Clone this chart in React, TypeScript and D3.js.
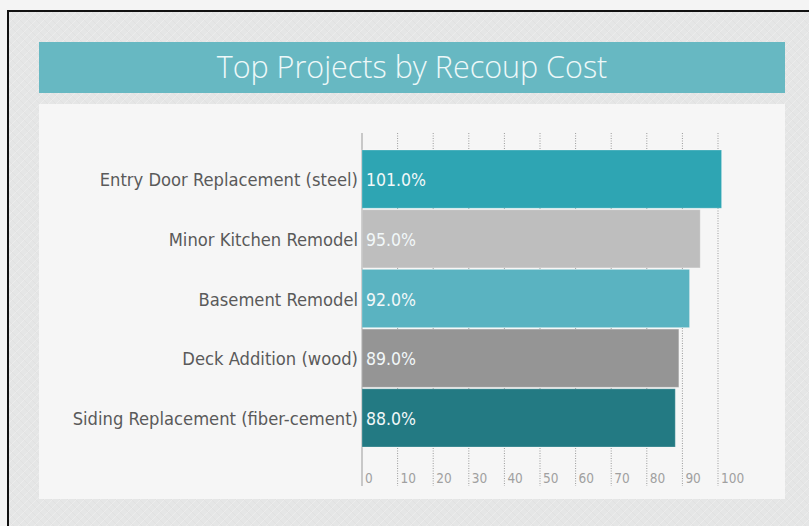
import * as d3 from 'd3'
import React, { useEffect, useRef } from 'react'

const categories = [
  'Entry Door Replacement (steel)',
  'Minor Kitchen Remodel',
  'Basement Remodel',
  'Deck Addition (wood)',
  'Siding Replacement (fiber-cement)',
]
const recoup = [101, 95, 92, 89, 88]
const barColors = ['#2ea5b3', '#bebebe', '#5ab3c1', '#959595', '#237a83']
const ticks = [0, 10, 20, 30, 40, 50, 60, 70, 80, 90, 100]
const title = 'Top Projects by Recoup Cost'

const W = 809
const H = 526
const condensed = "'DejaVu Sans Condensed', 'Liberation Sans Narrow', 'Roboto Condensed', sans-serif"

export default function App() {
  const svgRef = useRef<SVGSVGElement | null>(null)

  useEffect(() => {
    const svg = d3.select(svgRef.current)
    svg.selectAll('*').remove()

    const defs = svg.append('defs')
    const pat = defs
      .append('pattern')
      .attr('id', 'hatch')
      .attr('width', 8)
      .attr('height', 8)
      .attr('patternUnits', 'userSpaceOnUse')
    pat.append('rect').attr('width', 8).attr('height', 8).attr('fill', '#e5e6e6')
    pat.append('path').attr('d', 'M0,8 L8,0').attr('stroke', '#ececec').attr('stroke-width', 1)
    pat.append('path').attr('d', 'M0,0 L8,8').attr('stroke', '#dfe0e0').attr('stroke-width', 0.8)

    // page and frame
    svg.append('rect').attr('width', W).attr('height', H).attr('fill', '#f4f4f4')
    svg.append('rect').attr('x', 8).attr('y', 11).attr('width', W + 10).attr('height', H + 10)
      .attr('fill', 'url(#hatch)').attr('stroke', '#111').attr('stroke-width', 2)

    // title band
    svg.append('rect').attr('x', 39).attr('y', 42).attr('width', 746).attr('height', 51).attr('fill', '#67b8c2')
    svg.append('text').attr('x', 412).attr('y', 78).attr('text-anchor', 'middle')
      .attr('font-family', "'Open Sans', sans-serif").attr('font-weight', 300).attr('font-size', 30.5)
      .attr('fill', '#eef8f9').text(title)

    // panel
    svg.append('rect').attr('x', 39).attr('y', 104).attr('width', 746).attr('height', 395).attr('fill', '#f6f6f6')

    const x = d3.scaleLinear().domain([0, 100]).range([362, 718])
    const y = d3.scaleBand().domain(categories).range([150, 447]).paddingInner(0.025)

    // grid
    svg.append('g').selectAll('line').data(ticks.slice(1)).enter().append('line')
      .attr('x1', (d) => x(d)).attr('x2', (d) => x(d)).attr('y1', 133).attr('y2', 486)
      .attr('stroke', '#9a9a9a').attr('stroke-dasharray', '1,1.5')
    svg.append('line').attr('x1', x(0)).attr('x2', x(0)).attr('y1', 133).attr('y2', 486)
      .attr('stroke', '#9a9a9a')

    // bars
    svg.append('g').selectAll('rect').data(categories).enter().append('rect')
      .attr('x', x(0)).attr('y', (d) => y(d) as number)
      .attr('width', (d, i) => x(recoup[i]) - x(0)).attr('height', y.bandwidth())
      .attr('fill', (d, i) => barColors[i])
      .attr('stroke', 'rgba(255,255,255,0.25)').attr('stroke-width', 1)

    // value labels
    svg.append('g').selectAll('text').data(categories).enter().append('text')
      .attr('x', x(0) + 4).attr('y', (d) => (y(d) as number) + y.bandwidth() / 2 + 7)
      .attr('font-family', condensed).attr('font-size', 17.5).attr('fill', '#f2f8f9')
      .text((d, i) => `${recoup[i].toFixed(1)}%`)

    // category labels
    svg.append('g').selectAll('text').data(categories).enter().append('text')
      .attr('x', x(0) - 4).attr('y', (d) => (y(d) as number) + y.bandwidth() / 2 + 7)
      .attr('text-anchor', 'end')
      .attr('font-family', condensed).attr('font-size', 18.2).attr('fill', '#5a5a5a')
      .text((d) => d)

    // tick labels
    svg.append('g').selectAll('text').data(ticks).enter().append('text')
      .attr('x', (d) => x(d) + 3).attr('y', 483)
      .attr('font-family', condensed).attr('font-size', 13.5).attr('fill', '#a0a0a0')
      .text((d) => d)
  }, [])

  return (
    <svg
      ref={svgRef}
      width={W}
      height={H}
      style={{ position: 'absolute', top: 0, left: 0, display: 'block' }}
    ></svg>
  )
}
